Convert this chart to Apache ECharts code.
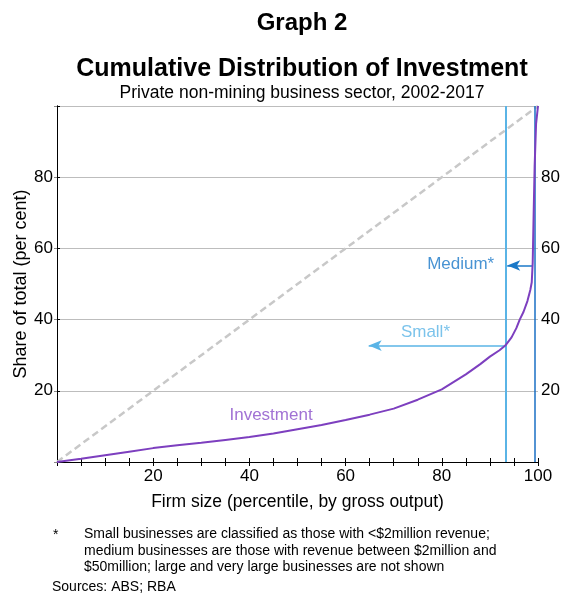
<!DOCTYPE html>
<html>
<head>
<meta charset="utf-8">
<script src="https://cdn.jsdelivr.net/npm/echarts@6/dist/echarts.min.js"></script>
<style>
html,body{margin:0;padding:0;background:#fff;}
#chart{width:565px;height:596px;}
</style>
</head>
<body>
<div id="chart"></div>
<script>
// Data
const percentile = [0, 5, 10, 15, 20, 25, 30, 35, 40, 45, 50, 55, 60, 65, 70, 75, 80, 85, 88, 90, 92, 93.2, 94.5, 95.5, 96.2, 97, 97.8, 98.4, 98.7, 98.9, 99.1, 99.3, 99.6, 100];
const investment = [0, 0.9, 1.9, 2.9, 3.9, 4.7, 5.4, 6.2, 7.0, 8.0, 9.2, 10.4, 11.8, 13.3, 15.0, 17.5, 20.4, 24.6, 27.5, 29.6, 31.4, 32.7, 35.0, 37.6, 40.0, 42.2, 45.2, 48.3, 50.5, 56.0, 70.0, 83.0, 95.0, 100];
const equality = [[0, 0], [100, 100]];
const smallBoundary = 93.2;
const mediumBoundary = 99.4;
const smallArrow = [[93.2, 32.7], [64.8, 32.7]];
const mediumArrow = [[98.9, 55.2], [93.6, 55.2]];
const annotations = [
  {name: 'Investment', value: [44.5, 13.0], color: '#8a4fc9', align: 'center'},
  {name: 'Small*', value: [76.6, 36.4], color: '#5ab4e6', align: 'center'},
  {name: 'Medium*', value: [90.9, 55.4], color: '#1a78c8', align: 'right'}
];
const xTickLabels = [20, 40, 60, 80, 100];
const yTickLabels = [20, 40, 60, 80];

const FONT = "'Liberation Sans', Arial, sans-serif";
const chart = echarts.init(document.getElementById('chart'), null, {renderer: 'canvas'});

const invData = percentile.map((p, i) => [p, investment[i]]);

const option = {
  backgroundColor: '#fff',
  animation: false,
  textStyle: {fontFamily: FONT},
  title: [
    {text: 'Graph 2', left: 297, top: 6, textAlign: 'center',
     textStyle: {fontSize: 24, fontWeight: 'bold', color: '#000', fontFamily: FONT}},
    {text: 'Cumulative Distribution of Investment', left: 297, top: 52, textAlign: 'center',
     textStyle: {fontSize: 25, fontWeight: 'bold', color: '#000', fontFamily: FONT}},
    {text: 'Private non-mining business sector, 2002-2017', left: 297, top: 79, textAlign: 'center',
     textStyle: {fontSize: 17.5, fontWeight: 'normal', color: '#000', fontFamily: FONT}}
  ],
  grid: {left: 57, right: 27, top: 106, bottom: 134, containLabel: false},
  xAxis: [
    {type: 'value', position: 'bottom', min: 0, max: 100, interval: 5,
     name: 'Firm size (percentile, by gross output)', nameLocation: 'middle', nameGap: 31, nameMoveOverlap: false,
     nameTextStyle: {fontSize: 17.5, color: '#000', fontFamily: FONT},
     axisLine: {show: true, lineStyle: {color: '#000', width: 1}},
     axisTick: {show: true, inside: true, length: 4, lineStyle: {color: '#000'}},
     axisLabel: {fontSize: 17, color: '#000', margin: 6, fontFamily: FONT, showMinLabel: true, showMaxLabel: true,
       formatter: v => xTickLabels.indexOf(v) >= 0 ? String(v) : ''},
     splitLine: {show: false}},
    {type: 'value', position: 'top', min: 0, max: 100, interval: 5,
     axisLine: {show: true, lineStyle: {color: '#000', width: 1}},
     axisTick: {show: true, inside: true, length: 4, lineStyle: {color: '#000'}},
     axisLabel: {show: false}, splitLine: {show: false}}
  ],
  yAxis: [
    {type: 'value', position: 'left', min: 0, max: 100, interval: 20,
     name: 'Share of total (per cent)', nameLocation: 'middle', nameGap: 27, nameRotate: 90, nameMoveOverlap: false,
     nameTextStyle: {fontSize: 18, color: '#000', fontFamily: FONT},
     axisLine: {show: true, lineStyle: {color: '#000', width: 1}},
     axisTick: {show: true, inside: false, length: 3, lineStyle: {color: '#888'}},
     axisLabel: {fontSize: 17, color: '#000', margin: 4, fontFamily: FONT,
       formatter: v => yTickLabels.indexOf(v) >= 0 ? String(v) : ''},
     splitLine: {show: true, lineStyle: {color: '#bdbdbd', width: 1}}},
    {type: 'value', position: 'right', min: 0, max: 100, interval: 20,
     axisLine: {show: true, lineStyle: {color: '#000', width: 1}},
     axisTick: {show: true, inside: false, length: 3, lineStyle: {color: '#000'}},
     axisLabel: {fontSize: 17, color: '#000', margin: 3, fontFamily: FONT,
       formatter: v => yTickLabels.indexOf(v) >= 0 ? String(v) : ''},
     splitLine: {show: false}}
  ],
  series: [
    {type: 'line', name: 'Equality', data: equality, showSymbol: false, symbol: 'none',
     lineStyle: {color: '#c8c8c8', width: 2.5, type: [7, 4]}, z: 2, silent: true},
    {type: 'line', name: 'Boundaries', data: [], symbol: 'none', silent: true,
     markLine: {silent: true, symbol: ['none', 'none'], label: {show: false},
       data: [
         {xAxis: smallBoundary, lineStyle: {color: '#5ab4e6', width: 2, type: 'solid'}},
         {xAxis: mediumBoundary, lineStyle: {color: '#1a6fc4', width: 1.5, type: 'solid'}}
       ]}},
    {type: 'line', name: 'Arrows', data: [], symbol: 'none', silent: true,
     markLine: {silent: true, symbol: ['none', 'arrow'], symbolSize: [8, 13], label: {show: false},
       data: [
         [{coord: smallArrow[0], lineStyle: {color: '#5ab4e6', width: 1.5, type: 'solid'}}, {coord: smallArrow[1]}],
         [{coord: mediumArrow[0], lineStyle: {color: '#1a78c8', width: 1.5, type: 'solid'}}, {coord: mediumArrow[1]}]
       ]}},
    {type: 'line', name: 'Investment', data: invData, showSymbol: false, symbol: 'none',
     lineStyle: {color: '#7d3fbf', width: 2}, z: 5, silent: true},
    {type: 'scatter', name: 'Labels', symbolSize: 0, silent: true, z: 6,
     data: annotations.map(a => ({name: a.name, value: a.value,
       label: {show: true, position: 'inside', formatter: a.name, color: a.color, fontSize: 17,
         fontFamily: FONT, align: a.align, verticalAlign: 'middle'}}))}
  ],
  graphic: [
    {type: 'text', left: 53, top: 528, style: {text: '*', font: '14px ' + FONT, fill: '#000'}},
    {type: 'text', left: 84, top: 526, style: {
      text: 'Small businesses are classified as those with <$2million revenue;\nmedium businesses are those with revenue between $2million and\n$50million; large and very large businesses are not shown',
      font: '14px ' + FONT, fill: '#000', lineHeight: 16.5}},
    {type: 'text', left: 52, top: 580, style: {text: 'Sources: ABS; RBA', font: '14px ' + FONT, fill: '#000'}}
  ]
};
chart.setOption(option);
</script>
</body>
</html>
